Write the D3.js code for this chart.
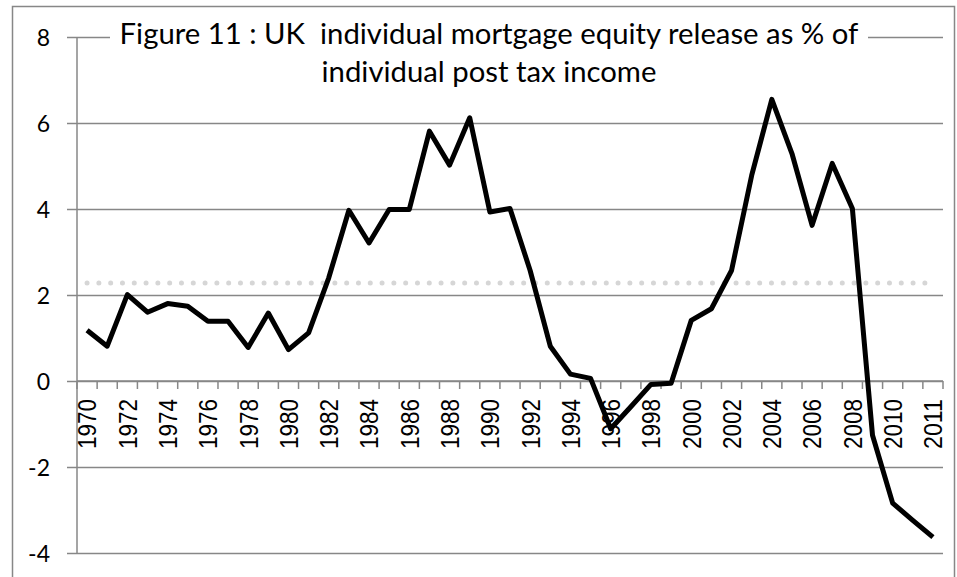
<!DOCTYPE html>
<html><head><meta charset="utf-8">
<script src="https://cdn.jsdelivr.net/npm/d3@7"></script>
<style>body{margin:0;background:#fff}</style>
</head><body><svg id="chart" width="957" height="577"></svg>
<script>
const years = ["1970","1971","1972","1973","1974","1975","1976","1977","1978","1979",
  "1980","1981","1982","1983","1984","1985","1986","1987","1988","1989",
  "1990","1991","1992","1993","1994","1995","1996","1997","1998","1999",
  "2000","2001","2002","2003","2004","2005","2006","2007","2008","2009",
  "2010","2011","2011"];
const releasePct = [1.18,0.81,2.01,1.60,1.80,1.74,1.39,1.39,0.78,1.58,
  0.73,1.12,2.40,3.97,3.21,3.99,3.99,5.81,5.02,6.12,
  3.93,4.01,2.57,0.81,0.16,0.06,-1.11,-0.60,-0.08,-0.05,
  1.41,1.68,2.57,4.78,6.55,5.29,3.62,5.06,4.01,-1.26,
  -2.84,-3.24,-3.63];
const averagePct = 2.28;
const yTicks = [-4,-2,0,2,4,6,8];
const titleLines = ["Figure 11 : UK  individual mortgage equity release as % of", "individual post tax income"];

(function(){
const svg = d3.select("#chart");
const pLeft = 77, pRight = 943, pTop = 37, pBottom = 553;
const gridColor = "#878787";

// outer border
svg.append("rect").attr("x",12.5).attr("y",6.5).attr("width",942).attr("height",590)
  .attr("fill","none").attr("stroke",gridColor).attr("stroke-width",1.5);

const x = d3.scaleBand().domain(d3.range(years.length)).range([pLeft,pRight]).padding(0);
const y = d3.scaleLinear().domain([-4,8]).range([pBottom,pTop]);
const cx = i => x(i) + x.bandwidth()/2;

// gridlines + y axis
const yAxis = d3.axisLeft(y).tickValues(yTicks).tickSize(-(pRight-pLeft)).tickSizeOuter(0).tickFormat(d => d);
const gy = svg.append("g").attr("transform",`translate(${pLeft},0)`).call(yAxis);
gy.select(".domain").remove();
gy.selectAll(".tick line").attr("stroke",gridColor).attr("stroke-width",1.5).attr("x1",-10);
gy.selectAll(".tick text").attr("x",-27).attr("dy","0.35em")
  .style("font-family","Lato, 'Open Sans', sans-serif").style("font-size","23px").attr("fill","#000");
svg.append("line").attr("x1",pLeft).attr("x2",pLeft).attr("y1",pTop).attr("y2",pBottom)
  .attr("stroke",gridColor).attr("stroke-width",1.5);

// x axis at zero
const y0 = y(0);
const gx = svg.append("g").attr("transform",`translate(0,${y0})`);
gx.append("line").attr("x1",pLeft).attr("x2",pRight).attr("stroke",gridColor).attr("stroke-width",1.5);
gx.selectAll(".tk").data(d3.range(years.length+1)).join("line").attr("class","tk")
  .attr("x1",i => i < years.length ? x(i) : pRight).attr("x2",i => i < years.length ? x(i) : pRight)
  .attr("y1",0).attr("y2",8).attr("stroke",gridColor).attr("stroke-width",1.5);
gx.selectAll(".lbl").data(d3.range(0,years.length,2)).join("text").attr("class","lbl")
  .attr("transform",i => `translate(${cx(i)},18) rotate(-90)`)
  .attr("text-anchor","end").attr("dy","0.36em")
  .attr("textLength",50).attr("lengthAdjust","spacingAndGlyphs")
  .style("font-family","'Liberation Sans', Arial, sans-serif").style("font-size","26px")
  .attr("fill","#000").text(i => years[i]);

// average dotted line
svg.append("line").attr("x1",cx(0)).attr("x2",cx(years.length-1))
  .attr("y1",y(averagePct)).attr("y2",y(averagePct))
  .attr("stroke","#d6d6d6").attr("stroke-width",5).attr("stroke-linecap","round")
  .attr("stroke-dasharray","0 11.8");

// data line
const line = d3.line().x((d,i) => cx(i)).y(d => y(d));
svg.append("path").datum(releasePct).attr("d",line).attr("fill","none")
  .attr("stroke","#000").attr("stroke-width",5).attr("stroke-linejoin","round");

// title
const title = svg.append("g");
const bg = title.append("rect").attr("fill","#fff");
const tcx = 489;
const t1 = title.append("text").attr("x",tcx).attr("y",44).attr("text-anchor","middle")
  .style("white-space","pre").style("font-family","Lato, 'Open Sans', sans-serif")
  .style("font-size","28px").attr("fill","#000").text(titleLines[0]);
const w = t1.node().getComputedTextLength();
const fs = 28 * 739 / w;
t1.style("font-size",fs+"px");
title.append("text").attr("x",tcx).attr("y",82).attr("text-anchor","middle")
  .style("white-space","pre").style("font-family","Lato, 'Open Sans', sans-serif")
  .style("font-size",fs+"px").attr("fill","#000").text(titleLines[1]);
bg.attr("x",110).attr("y",20).attr("width",758).attr("height",30);
})();
</script>
</body></html>
